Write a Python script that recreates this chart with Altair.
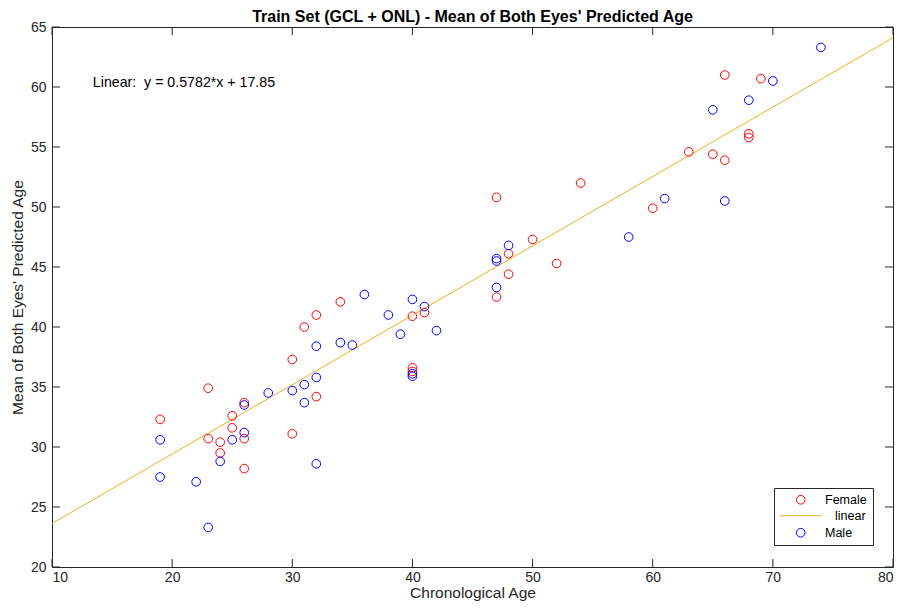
import altair as alt
import pandas as pd

female_x = [19, 23, 23, 24, 24, 25, 25, 26, 26, 26, 30, 30, 31, 32, 32, 34, 40, 40, 40, 41,
            47, 47, 48, 48, 50, 52, 54, 60, 63, 65, 66, 66, 68, 68, 69]
female_y = [32.3, 34.9, 30.7, 30.4, 29.5, 32.6, 31.6, 30.7, 28.2, 33.7, 37.3, 31.1, 40.0, 41.0, 34.2, 42.1, 40.9, 36.6, 36.3, 41.2,
            50.8, 42.5, 46.1, 44.4, 47.3, 45.3, 52.0, 49.9, 54.6, 54.4, 53.9, 61.0, 56.1, 55.8, 60.7]
male_x = [19, 19, 22, 23, 24, 25, 26, 26, 28, 30, 31, 31, 32, 32, 32, 34, 35, 36, 38, 39,
          40, 40, 40, 41, 42, 47, 47, 47, 48, 58, 61, 65, 66, 68, 70, 74]
male_y = [30.6, 27.5, 27.1, 23.3, 28.8, 30.6, 33.5, 31.2, 34.5, 34.7, 35.2, 33.7, 35.8, 38.4, 28.6, 38.7, 38.5, 42.7, 41.0, 39.4,
          42.3, 36.1, 35.9, 41.7, 39.7, 45.7, 45.5, 43.3, 46.8, 47.5, 50.7, 58.1, 50.5, 58.9, 60.5, 63.3]

slope = 0.5782
intercept = 17.85
fit_x = [10, 80]
x_ticks = [10, 20, 30, 40, 50, 60, 70, 80]
y_ticks = [20, 25, 30, 35, 40, 45, 50, 55, 60, 65]
groups = ["Female", "linear", "Male"]
colors = ["#FF0000", "#EDB120", "#0000FF"]

pts = pd.DataFrame({
    "x": female_x + male_x,
    "y": female_y + male_y,
    "sex": ["Female"] * len(female_x) + ["Male"] * len(male_x),
})
fit = pd.DataFrame({"x": fit_x, "y": [slope * v + intercept for v in fit_x]})
xt = pd.DataFrame({"v": x_ticks})
yt = pd.DataFrame({"v": y_ticks})

W, H = 841, 540
FONT = "Liberation Sans"

xs = alt.Scale(domain=[10, 80], nice=False, zero=False)
ys = alt.Scale(domain=[20, 65], nice=False, zero=False)

color = alt.Color("sex:N", scale=alt.Scale(domain=groups, range=colors),
                  legend=alt.Legend(title=None, orient="none", legendX=722, legendY=461,
                                    strokeColor="#262626", fillColor="white", padding=5.5,
                                    labelFontSize=12.5, labelFont=FONT, labelColor="black",
                                    symbolStrokeWidth=1, symbolSize=75, rowPadding=3,
                                    labelOffset=18, symbolOffset=15, labelLimit=200,
                                    labelExpr="datum.label == 'linear' ? '\u2800linear' : datum.label"))
shape = alt.Shape("sex:N", scale=alt.Scale(domain=groups, range=["circle", "M-4.8,0H4.8", "circle"]))

points = alt.Chart(pts).mark_point(filled=False, strokeWidth=1, opacity=1, size=75).encode(
    x=alt.X("x:Q", scale=xs,
            axis=alt.Axis(values=x_ticks, title="Chronological Age", grid=False, ticks=False,
                          domain=False, labelPadding=3, titlePadding=1)),
    y=alt.Y("y:Q", scale=ys,
            axis=alt.Axis(values=y_ticks, title="Mean of Both Eyes' Predicted Age", grid=False,
                          ticks=False, domain=False, labelPadding=6, titlePadding=5)),
    color=color, shape=shape,
)

line = alt.Chart(fit).mark_line(color="#EDB120", strokeWidth=1).encode(
    x=alt.X("x:Q", scale=xs), y=alt.Y("y:Q", scale=ys)
)

tick_style = dict(color="#262626", strokeWidth=1)
xb = alt.Chart(xt).mark_rule(**tick_style).encode(x=alt.X("v:Q", scale=xs), y=alt.value(H), y2=alt.value(H - 8))
xtp = alt.Chart(xt).mark_rule(**tick_style).encode(x=alt.X("v:Q", scale=xs), y=alt.value(0), y2=alt.value(8))
yl = alt.Chart(yt).mark_rule(**tick_style).encode(y=alt.Y("v:Q", scale=ys), x=alt.value(0), x2=alt.value(8))
yr = alt.Chart(yt).mark_rule(**tick_style).encode(y=alt.Y("v:Q", scale=ys), x=alt.value(W), x2=alt.value(W - 8))

label = alt.Chart(pd.DataFrame({"x": [13.4], "y": [60.3], "t": ["Linear:\u00a0 y = 0.5782*x + 17.85"]})).mark_text(
    align="left", baseline="middle", fontSize=14.2, font=FONT, color="black"
).encode(x=alt.X("x:Q", scale=xs), y=alt.Y("y:Q", scale=ys), text="t:N")

chart = alt.layer(line, xb, xtp, yl, yr, label, points).properties(
    width=W, height=H,
    title=alt.Title("Train Set (GCL + ONL) - Mean of Both Eyes' Predicted Age",
                    fontSize=16, fontWeight="bold", font=FONT, color="black", offset=-5),
    autosize=alt.AutoSizeParams(type="none"),
    padding={"left": 44, "top": 19, "right": 3, "bottom": 37},
).configure_view(stroke="#262626", strokeWidth=1).configure_axis(
    labelFont=FONT, labelFontSize=14, labelColor="#262626",
    titleFont=FONT, titleFontSize=15.5, titleColor="#262626", titleFontWeight="normal"
)

chart.save("out.html", embed_options={"renderer": "svg", "actions": False})
